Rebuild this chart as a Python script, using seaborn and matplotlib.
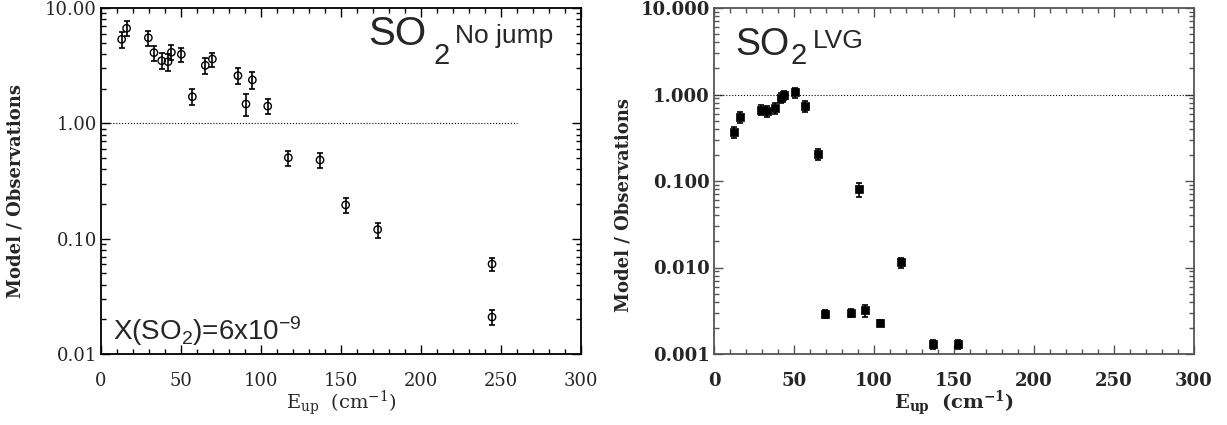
import matplotlib
matplotlib.use('Agg')
import numpy as np
import pandas as pd
import seaborn as sns
import matplotlib.pyplot as plt
from matplotlib.ticker import LogLocator, MultipleLocator, NullFormatter

sns.set_style('ticks')
plt.rcParams['font.family'] = ['DejaVu Serif']
plt.rcParams['mathtext.fontset'] = 'dejavuserif'

# --- data ---
eup_nojump = [12.9, 16.0, 29.6, 33.1, 37.9, 41.9, 44.0, 50.2, 57.1, 65.2, 69.6,
              85.6, 90.6, 94.6, 104.2, 117.1, 136.9, 152.9, 172.9, 244.4, 244.4]
ratio_nojump = [5.35, 6.67, 5.52, 4.10, 3.49, 3.42, 4.13, 3.97, 1.70, 3.18, 3.61,
                2.59, 1.47, 2.38, 1.41, 0.504, 0.481, 0.196, 0.120, 0.0603, 0.0209]
err_nojump = [0.85, 1.00, 0.85, 0.60, 0.55, 0.55, 0.60, 0.55, 0.27, 0.50, 0.50,
              0.40, 0.32, 0.40, 0.20, 0.075, 0.070, 0.030, 0.018, 0.008, 0.003]

eup_lvg = [12.7, 16.3, 29.6, 32.9, 38.1, 41.7, 43.6, 50.4, 57.1, 65.0, 69.4,
           85.4, 90.9, 94.4, 104.0, 116.9, 136.9, 152.3]
ratio_lvg = [0.366, 0.544, 0.662, 0.644, 0.692, 0.918, 0.986, 1.06, 0.736, 0.205, 0.0029,
             0.0030, 0.0801, 0.0032, 0.0023, 0.0115, 0.0013, 0.0013]
err_lvg = [0.05, 0.08, 0.09, 0.09, 0.10, 0.12, 0.12, 0.14, 0.10, 0.03, 0.0003,
           0.0003, 0.015, 0.0005, 0.0002, 0.0015, 0.00015, 0.00017]

x_ticks = [0, 50, 100, 150, 200, 250, 300]
y_ticks_left = [0.01, 0.1, 1, 10]
y_labels_left = ['0.01', '0.10', '1.00', '10.00']
y_ticks_right = [0.001, 0.01, 0.1, 1, 10]
y_labels_right = ['0.001', '0.010', '0.100', '1.000', '10.000']

df_nj = pd.DataFrame({'Eup': eup_nojump, 'ratio': ratio_nojump, 'err': err_nojump})
df_lvg = pd.DataFrame({'Eup': eup_lvg, 'ratio': ratio_lvg, 'err': err_lvg})

fig = plt.figure(figsize=(12.27, 4.25), dpi=100)
W, H = 1227, 425
ax1 = fig.add_axes([101 / W, 1 - 354 / H, 480 / W, 346 / H])
ax2 = fig.add_axes([714 / W, 1 - 354 / H, 480 / W, 346 / H])

SANS = 'Liberation Sans'


def style_axis(ax, yticks, ylabels, weight, spine_color):
    ax.set_yscale('log')
    ax.set_xlim(0, 300)
    ax.set_xticks(x_ticks)
    ax.set_xticklabels([str(t) for t in x_ticks], fontsize=13, fontweight=weight)
    ax.xaxis.set_minor_locator(MultipleLocator(10))
    ax.set_yticks(yticks)
    ax.set_yticklabels(ylabels, fontsize=13, fontweight=weight)
    ax.yaxis.set_minor_locator(LogLocator(base=10, subs=np.arange(2, 10)))
    ax.yaxis.set_minor_formatter(NullFormatter())
    ax.tick_params(which='both', direction='in', top=True, right=True, color=spine_color)
    ax.tick_params(axis='x', which='major', length=6.5, width=1, pad=13)
    ax.tick_params(axis='y', which='major', length=6.5, width=1, pad=3)
    ax.tick_params(which='minor', length=3.5, width=1)
    for s in ax.spines.values():
        s.set_color(spine_color)
        s.set_linewidth(1.3)
    ax.set_ylabel('Model / Observations', fontsize=13, fontweight='bold')
    if weight == 'bold':
        ax.set_xlabel(r'$\mathbf{E_{up}\ \ (cm^{-1})}$', fontsize=14)
    else:
        ax.set_xlabel(r'$\mathrm{E_{up}\ \ (cm^{-1})}$', fontsize=14)


def species_label(ax, size, x, y, x2, y2, x3, y3, tag):
    # big "SO", lowered large "2", then the model tag
    ax.text(x, y, 'SO', transform=ax.transAxes, fontsize=size, family=SANS, va='baseline')
    ax.text(x2, y2, '2', transform=ax.transAxes, fontsize=21, family=SANS, va='baseline')
    ax.text(x3, y3, tag, transform=ax.transAxes, fontsize=19, family=SANS, va='baseline')


# left panel: no jump
ax1.plot([0, 260], [1, 1], ls=':', color='black', lw=0.8)
ax1.errorbar(df_nj['Eup'], df_nj['ratio'], yerr=df_nj['err'], fmt='none',
             ecolor='black', elinewidth=1.2, capsize=2.2, capthick=1.2)
sns.scatterplot(data=df_nj, x='Eup', y='ratio', ax=ax1, marker='o', s=28,
                facecolors='none', edgecolor='black', linewidth=1, zorder=3)
ax1.set_ylim(0.01, 10)
style_axis(ax1, y_ticks_left, y_labels_left, 'normal', 'black')
ax1.yaxis.set_label_coords(-0.16, 0.47)
ax1.xaxis.set_label_coords(0.5, -0.10)

species_label(ax1, 29, 0.557, 0.893, 0.692, 0.838, 0.737, 0.90, 'No jump')
ax1.text(0.025, 0.04, r'X(SO$_\mathregular{2}$)=6x10$^\mathregular{-9}$', transform=ax1.transAxes,
         fontsize=20, family=SANS, ha='left', va='baseline')

# right panel: LVG
ax2.plot([0, 300], [1, 1], ls=':', color='black', lw=0.8)
ax2.errorbar(df_lvg['Eup'], df_lvg['ratio'], yerr=df_lvg['err'], fmt='none',
             ecolor='black', elinewidth=1.2, capsize=2.2, capthick=1.2)
sns.scatterplot(data=df_lvg, x='Eup', y='ratio', ax=ax2, marker='s', s=32,
                color='black', edgecolor='black', linewidth=0.5, zorder=3)
ax2.set_ylim(0.001, 10)
style_axis(ax2, y_ticks_right, y_labels_right, 'bold', '#555555')
ax2.yaxis.set_label_coords(-0.17, 0.43)
ax2.xaxis.set_label_coords(0.5, -0.10)

species_label(ax2, 27, 0.044, 0.864, 0.16, 0.838, 0.205, 0.884, 'LVG')

fig.savefig('out.png', dpi=100)
